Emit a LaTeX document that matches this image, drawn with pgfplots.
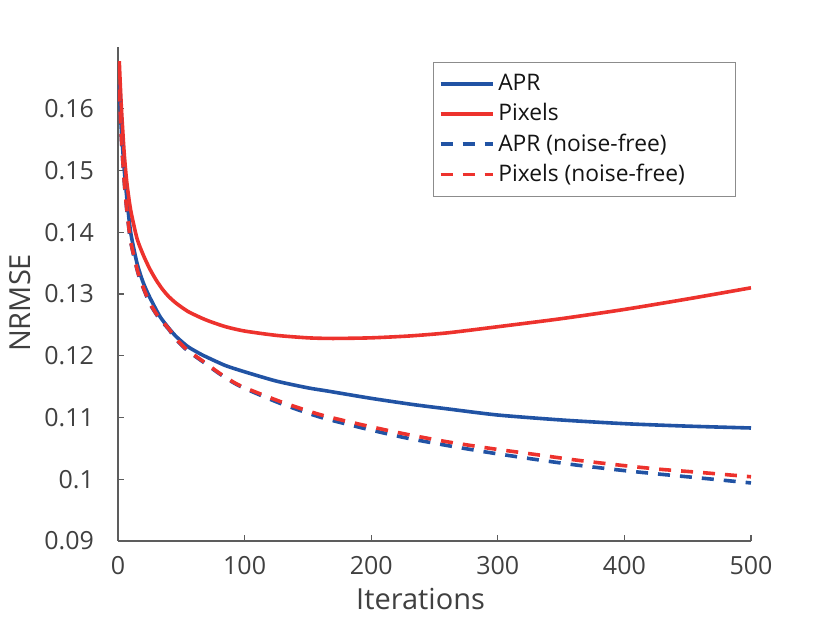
\documentclass[border=0pt]{standalone}
\usepackage{fontspec}
\setmainfont{Open Sans}
\usepackage{pgfplots}
\pgfplotsset{compat=1.18}

\definecolor{aprblue}{RGB}{33,83,164}
\definecolor{pixred}{RGB}{237,50,45}
\definecolor{axgray}{RGB}{64,64,64}

\begin{document}
\begin{tikzpicture}
\begin{axis}[
    scale only axis,
    width=316.5pt, height=247pt,
    xmin=0, xmax=500, ymin=0.09, ymax=0.17,
    axis lines=left,
    axis line style={-, draw=axgray!85, line width=0.6pt},
    xtick={0,100,...,500},
    ytick={0.09,0.1,0.11,0.12,0.13,0.14,0.15,0.16},
    tick align=inside,
    major tick length=3pt,
    tick style={draw=axgray!85, line width=0.6pt},
    /pgf/number format/assume math mode=true,
    ticklabel style={font=\fontsize{12.5}{14}\selectfont, text=axgray},
    yticklabel style={/pgf/number format/fixed, /pgf/number format/precision=2, xshift=-8.5pt},
    xticklabel style={yshift=-4pt},
    xlabel={Iterations},
    ylabel={NRMSE},
    label style={font=\fontsize{14.5}{16}\selectfont, text=axgray},
    xlabel style={at={(ticklabel cs:0.478)}},
    ylabel style={at={(ticklabel cs:0.482)}},
    legend style={at={(0.976,0.970)}, anchor=north east, draw=axgray!60,
        line width=0.5pt, font=\fontsize{11.4}{13}\selectfont, text=black!92,
        cells={anchor=west}, row sep=1pt, inner xsep=2.5pt, inner ysep=4pt},
    legend image code/.code={\draw[#1] (0pt,0pt) -- (26pt,0pt);},
    legend cell align=left,
    every axis plot/.append style={smooth, tension=0.4},
]
% APR
\addplot[aprblue, line width=1.8pt] coordinates {
(1,0.1640) (2,0.1590) (3,0.1555) (5,0.1500) (7,0.1455) (10,0.1400) (15,0.1350)
(20,0.1318) (25,0.1295) (33,0.1264) (40,0.1245) (46,0.1231) (55,0.1215)
(65,0.1203) (72,0.1196) (85,0.1184) (100,0.1174) (125,0.1159) (150,0.1148)
(165,0.1143) (200,0.1131) (233,0.1121) (260,0.1114) (300,0.1104) (350,0.1096)
(400,0.1090) (450,0.1086) (500,0.1083)};
% Pixels
\addplot[pixred, line width=1.8pt] coordinates {
(1,0.1677) (2,0.1630) (3,0.1590) (5,0.1525) (7,0.1480) (10,0.1436) (15,0.1390)
(20,0.1363) (25,0.1341) (30,0.1323) (35,0.1308) (40,0.1296) (46,0.1285)
(55,0.1272) (65,0.1262) (72,0.1256) (85,0.1247) (100,0.1240) (125,0.1233)
(150,0.1229) (170,0.1228) (200,0.1229) (230,0.1232) (260,0.1237) (300,0.1247)
(350,0.1260) (400,0.1275) (450,0.1292) (500,0.1310)};
% APR (noise-free)
\addplot[aprblue, line width=1.8pt, dash pattern=on 6pt off 5pt] coordinates {
(1,0.1630) (2,0.1580) (3,0.1540) (5,0.1480) (7,0.1435) (10,0.1385) (15,0.1340)
(18,0.1320) (25,0.1285) (32,0.1262) (40,0.1243) (46,0.1226) (55,0.1208)
(70,0.1186) (80,0.1171) (96,0.1151) (128,0.1123) (159,0.1101) (191,0.1084)
(225,0.1068) (259,0.1055) (294,0.1043) (330,0.1032) (362,0.1023) (400,0.1014)
(429,0.1008) (460,0.1002) (500,0.0994)};
% Pixels (noise-free)
\addplot[pixred, line width=1.8pt, dash pattern=on 6pt off 5pt] coordinates {
(1,0.1631) (2,0.1581) (3,0.1541) (5,0.1481) (7,0.1436) (10,0.1386) (15,0.1341)
(18,0.1321) (25,0.1286) (32,0.1263) (40,0.1244) (46,0.1227) (55,0.1209)
(70,0.1187) (80,0.1172) (96,0.1152) (128,0.1126) (159,0.1105) (191,0.1089)
(225,0.1074) (259,0.1061) (294,0.1050) (330,0.1040) (362,0.1031) (400,0.1022)
(429,0.1016) (460,0.1011) (500,0.1004)};
\legend{APR, Pixels, APR (noise-free), \makebox[114pt][l]{Pixels (noise-free)}}
\end{axis}
\pgfresetboundingbox
\path ([shift={(-59pt,-42pt)}]current axis.south west) rectangle ([shift={(39.5pt,23.5pt)}]current axis.north east);
\end{tikzpicture}
\end{document}
